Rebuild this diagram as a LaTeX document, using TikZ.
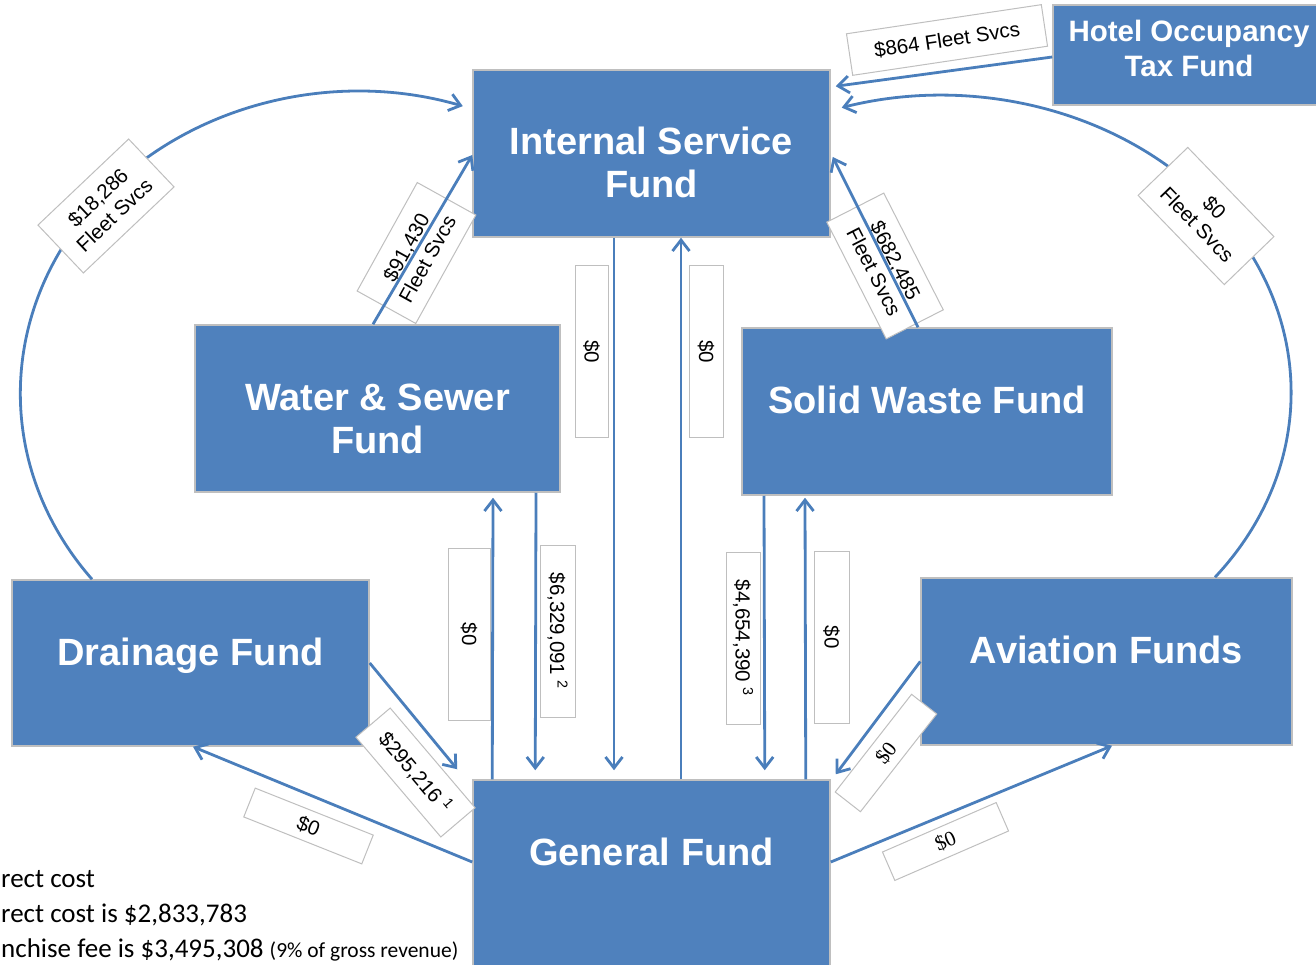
\documentclass[tikz,border=0pt]{standalone}
\usepackage{fontspec}
\setmainfont{Liberation Sans}
\newfontfamily\notefont{Carlito}
\newfontfamily\numfont{Liberation Serif}
\usetikzlibrary{arrows.meta}

\definecolor{fundblue}{HTML}{4F81BD}
\definecolor{fundedge}{HTML}{BFBFBF}
\definecolor{flowblue}{HTML}{4A7EBB}

\begin{document}
\begin{tikzpicture}[
  x=1pt, y=-1pt,
  fund/.style={
    rectangle,
    fill=fundblue,
    draw=fundedge,
    line width=1.5pt,
    text=white,
    font=\fontsize{38}{43}\selectfont\bfseries,
    align=center,
    inner sep=0pt
  },
  amount/.style={
    rectangle,
    fill=white,
    draw=fundedge,
    line width=1pt,
    font=\fontsize{20.5}{24}\selectfont,
    align=center,
    inner sep=0pt
  },
  flow/.style={-{Straight Barb[length=11pt,width=17pt]}, draw=flowblue, line width=2.8pt}
]
\useasboundingbox (0,0) rectangle (1316,965);
\clip (0,0) rectangle (1316,965);

% funds
\node[fund, minimum width=357pt, minimum height=167pt, text height=100pt, text depth=12pt] (isf) at (651.5,153.5) {Internal Service\\Fund};
\node[fund, font=\fontsize{29.5}{35}\selectfont\bfseries, minimum width=272pt, minimum height=100pt, text height=70pt, text depth=27pt] (hotel) at (1189,55) {Hotel Occupancy\\Tax Fund};
\node[fund, minimum width=365pt, minimum height=167pt, text height=100pt, text depth=11pt] (water) at (377.5,408.5) {Water \& Sewer\\Fund};
\node[fund, minimum width=370pt, minimum height=167pt, text height=27pt, text depth=23pt] (solid) at (927,411.5) {Solid Waste Fund};
\node[fund, minimum width=357pt, minimum height=166pt, text height=27pt, text depth=23pt] (drain) at (190.5,663) {Drainage Fund};
\node[fund, minimum width=371pt, minimum height=167pt, text height=27pt, text depth=23pt] (avia) at (1106.5,661.5) {Aviation Funds};
\node[fund, minimum width=357pt, minimum height=200pt, text height=27pt, text depth=56pt] (general) at (651.5,880) {General Fund};

% fleet services loops
\draw[flow] ([xshift=-98.5pt]drain.north) arc[start angle=218, end angle=72, x radius=338pt, y radius=302pt];
\draw[flow] ([xshift=108.5pt]avia.north) arc[start angle=-38.5, end angle=106.5, x radius=350pt, y radius=297pt];

% amounts
\node[amount, rotate=8.5, minimum width=197pt, minimum height=42pt] (fee-hotel-isf) at (947,40) {\$864 Fleet Svcs};
\node[amount, rotate=-46, minimum width=124pt, minimum height=69pt] (fee-avia-isf) at (1206,216) {\$0\\Fleet Svcs};
\node[amount, rotate=43.5, minimum width=125pt, minimum height=66pt] (fee-drain-isf) at (106,206) {\$18,286\\Fleet Svcs};
\node[amount, rotate=61, minimum width=124pt, minimum height=67pt] (fee-water-isf) at (416.5,253) {\$91,430\\Fleet Svcs};
\node[amount, rotate=-63, minimum width=131pt, minimum height=64pt] (fee-solid-isf) at (885,266) {\$682,485\\Fleet Svcs};
\node[amount, rotate=-90, minimum width=171pt, minimum height=33pt] (fee-isf-gen) at (591.5,351.5) {\$0};
\node[amount, rotate=-90, minimum width=171pt, minimum height=34pt] (fee-gen-isf) at (706,351.5) {\$0};
\node[amount, rotate=-90, minimum width=172pt, minimum height=42pt] (fee-gen-water) at (469,634) {\$0};
\node[amount, rotate=-90, minimum width=172pt, minimum height=35pt] (fee-water-gen) at (557.5,631) {\$6,329,091 \textsuperscript{2}};
\node[amount, rotate=-90, minimum width=172pt, minimum height=34pt] (fee-solid-gen) at (743,638) {\$4,654,390 \textsuperscript{3}};
\node[amount, rotate=-90, minimum width=172pt, minimum height=35pt] (fee-gen-solid) at (831.5,637) {\$0};
\node[amount, rotate=-49.6, minimum width=131pt, minimum height=45pt] (fee-drain-gen) at (415.5,772.5) {\$295,216 \textsuperscript{1}};
\node[amount, rotate=-21.7, minimum width=127pt, minimum height=31pt] (fee-gen-drain) at (308.5,826) {\$0};
\node[amount, rotate=52, minimum width=124pt, minimum height=32pt, font=\numfont\fontsize{21}{24}\selectfont] (fee-avia-gen) at (886,753) {\$0};
\node[amount, rotate=23.5, minimum width=124pt, minimum height=31pt, font=\numfont\fontsize{21}{24}\selectfont] (fee-gen-avia) at (945.5,841.5) {\$0};

% transfers
\draw[flow] ([shift={(0,2)}]hotel.west) -- ([shift={(5,17)}]isf.north east);
\draw[flow] ([xshift=-4.5pt]water.north) -- ([shift={(0,1.5)}]isf.west);
\draw[flow] ([xshift=-9pt]solid.north) -- ([shift={(2,3.5)}]isf.east);
\draw[flow] ([xshift=-37.5pt]isf.south) -- ([shift={(-37.5,-9)}]general.north);
\draw[flow] ([xshift=29.5pt]general.north) -- ([xshift=29.5pt]isf.south);
\draw[flow] ([xshift=20pt]general.north west) -- ([shift={(115.5,5)}]water.south);
\draw[flow] ([xshift=158.5pt]water.south) -- ([shift={(63,-9)}]general.north west);
\draw[flow] ([xshift=-163pt]solid.south) -- ([shift={(-66,-9)}]general.north east);
\draw[flow] ([xshift=-25pt]general.north east) -- ([shift={(-122,2)}]solid.south);
\draw[flow] (drain.east) -- ([shift={(-15,-10)}]general.north west);
\draw[flow] ([shift={(0,-18)}]general.west) -- ([xshift=2.5pt]drain.south);
\draw[flow] (avia.west) -- ([shift={(5,-5)}]general.north east);
\draw[flow] ([shift={(0,-18)}]general.east) -- ([xshift=5.5pt]avia.south);

% footnotes
\node[anchor=west, align=left, inner sep=0pt, font=\notefont\fontsize{27}{35}\selectfont] (notes) at (1,916) {rect cost\\rect cost is \$2,833,783\\nchise fee is \$3,495,308 {\fontsize{21.5}{24}\selectfont(9\% of gross revenue)}};

\end{tikzpicture}
\end{document}
